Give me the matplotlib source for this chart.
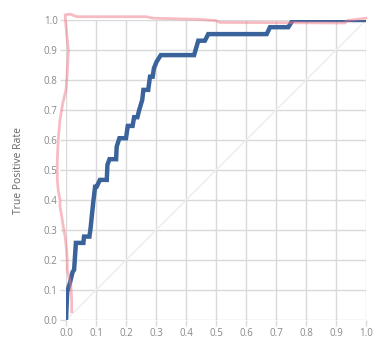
import matplotlib
matplotlib.use("Agg")
import matplotlib.pyplot as plt

# Blue ROC curve (FPR, TPR)
roc_fpr = [0.0, 0.004, 0.013, 0.022, 0.027, 0.033, 0.058, 0.060, 0.078, 0.082, 0.087, 0.091,
           0.097, 0.102, 0.113, 0.136, 0.138, 0.145, 0.167, 0.169, 0.178, 0.200, 0.206,
           0.222, 0.227, 0.238, 0.244, 0.254, 0.258, 0.274, 0.280, 0.289, 0.293, 0.302,
           0.316, 0.427, 0.441, 0.463, 0.474, 0.669, 0.680, 0.741, 0.756, 1.0]
roc_tpr = [0.0, 0.094, 0.123, 0.160, 0.167, 0.257, 0.257, 0.278, 0.278, 0.306, 0.356, 0.394,
           0.444, 0.444, 0.467, 0.467, 0.517, 0.536, 0.536, 0.578, 0.606, 0.606, 0.647,
           0.647, 0.676, 0.676, 0.700, 0.733, 0.767, 0.767, 0.811, 0.811, 0.839, 0.861,
           0.883, 0.883, 0.931, 0.931, 0.953, 0.953, 0.976, 0.976, 1.0, 1.0]

# Red curve
red_x = [0.019, 0.019, 0.016, 0.011, 0.004, 0.004, 0.002, -0.003, -0.009, -0.014, -0.020,
         -0.020, -0.026, -0.029, -0.029, -0.026, -0.020, -0.011, 0.000, 0.004, 0.008,
         0.002, -0.001, -0.003, 0.013, 0.036, 0.269, 0.290, 0.447, 0.500, 0.513, 0.930,
         0.936, 1.0]
red_y = [0.028, 0.067, 0.117, 0.139, 0.167, 0.200, 0.233, 0.278, 0.311, 0.344, 0.378,
         0.400, 0.433, 0.467, 0.533, 0.600, 0.667, 0.722, 0.767, 0.822, 0.900,
         0.956, 0.989, 1.017, 1.020, 1.011, 1.011, 1.006, 1.002, 0.998, 0.992, 0.990,
         0.998, 1.006]

ticks = [0.0, 0.1, 0.2, 0.3, 0.4, 0.5, 0.6, 0.7, 0.8, 0.9, 1.0]
tick_labels = ["0.0", "0.1", "0.2", "0.3", "0.4", "0.5", "0.6", "0.7", "0.8", "0.9", "1.0"]

plt.rcParams['font.family'] = ['Open Sans', 'DejaVu Sans']

fig = plt.figure(figsize=(3.89, 3.51), dpi=100)
ax = fig.add_axes([66/389, 31/351, 300/389, 300/351])

grid_c = '#d9d9d9'
ax.set_xlim(0, 1)
ax.set_ylim(0, 1)
ax.set_xticks(ticks)
ax.set_yticks(ticks)
ax.set_xticklabels(tick_labels)
ax.set_yticklabels(tick_labels)
ax.grid(True, color=grid_c, linewidth=1.0)
ax.set_axisbelow(True)
for s in ax.spines.values():
    s.set_visible(False)
ax.tick_params(axis='both', length=4, width=1.0, color=grid_c, labelsize=7,
               labelcolor='#888888', pad=2)

ax.plot([0, 1], [0, 1], color='#ececec', linewidth=1.0, zorder=1)
ax.plot(roc_fpr, roc_tpr, color='#3b639b', linewidth=3.2, solid_joinstyle='miter', zorder=3)
ax.plot(red_x, red_y, color='#f07888', alpha=0.5, linewidth=2.0, clip_on=False, zorder=4)

ax.set_ylabel("True Positive Rate", fontsize=7.5, color='#666666', labelpad=14)

fig.savefig("out.png", dpi=100)
